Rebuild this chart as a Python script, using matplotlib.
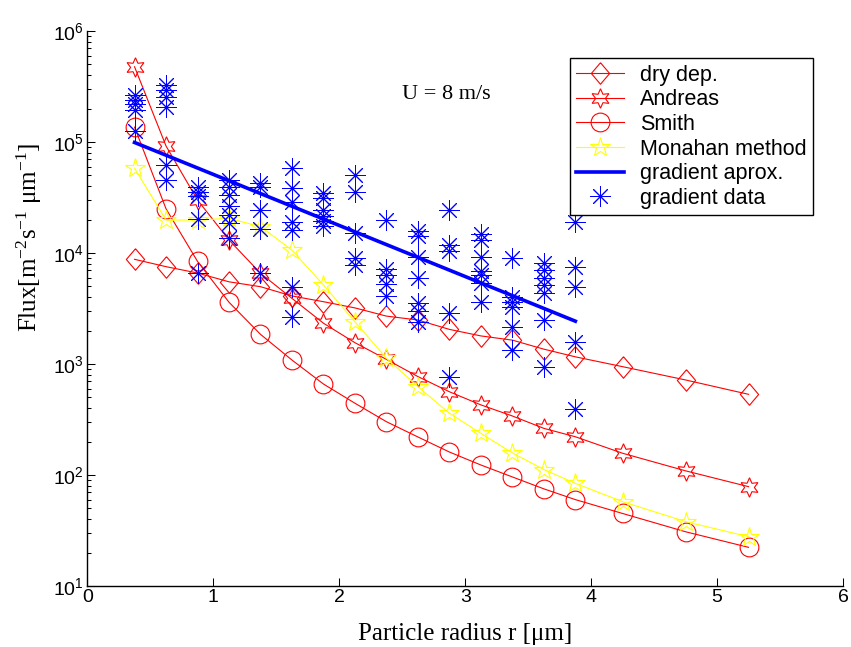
import matplotlib
matplotlib.use("Agg")
import matplotlib.pyplot as plt
from matplotlib.ticker import LogLocator, FuncFormatter, NullFormatter
import numpy as np

# === DATA ===
radius = [0.375, 0.625, 0.875, 1.125, 1.375, 1.625, 1.875, 2.125, 2.375,
          2.625, 2.875, 3.125, 3.375, 3.625, 3.875, 4.25, 4.75, 5.25]
dry_dep = [8770, 7530, 6600, 5500, 4970, 4100, 3640, 3200, 2700,
           2490, 2050, 1790, 1640, 1360, 1160, 946, 718, 533]
andreas = [4.76e5, 9.2e4, 3.0e4, 1.31e4, 6560, 3900, 2330, 1555, 1100,
           770, 562, 428, 340, 263, 221, 157, 109, 78.5]
smith = [1.36e5, 2.5e4, 8400, 3600, 1850, 1085, 660, 443, 302,
         220, 161, 123, 96, 75, 60, 45, 30.8, 22.3]
monahan = [5.8e4, 1.98e4, 1.98e4, 2.05e4, 1.73e4, 1.06e4, 5150, 2400, 1125,
           625, 360, 237, 158, 112, 84, 57.5, 38, 27.8]

# gradient approximation (straight line in semilog)
grad_fit_r = [0.375, 3.875]
grad_fit_flux = [9.9e4, 2.43e3]

# gradient data, one list per radius bin
grad_r = [0.375, 0.625, 0.875, 1.125, 1.375, 1.625, 1.875, 2.125,
          2.375, 2.625, 2.875, 3.125, 3.375, 3.625, 3.875]
grad_flux = [
    [2.65e5, 2.39e5, 2.2e5, 1.94e5, 1.26e5],
    [3.27e5, 2.94e5, 2.54e5, 2.06e5, 6.2e4, 4.55e4],
    [3.93e4, 3.55e4, 3.27e4, 2.02e4, 6600],
    [4.55e4, 3.93e4, 3.34e4, 2.65e4, 2.2e4, 1.86e4, 1.36e4],
    [4.27e4, 3.93e4, 2.44e4, 1.64e4, 6600],
    [5.83e4, 3.86e4, 2.88e4, 1.9e4, 1.61e4, 4940, 2650],
    [3.47e4, 3.13e4, 2.44e4, 2.15e4, 1.94e4, 1.75e4],
    [5.05e4, 3.55e4, 1.51e4, 9020, 7800],
    [1.98e4, 7170, 6340, 5260, 4100],
    [1.58e4, 1.42e4, 9200, 5960, 3550, 3000, 2390],
    [2.44e4, 1.18e4, 1.04e4, 2880, 764],
    [1.48e4, 1.31e4, 9200, 6880, 6340, 5370, 3620],
    [9020, 4020, 3620, 3270, 2150, 1340],
    [8130, 7030, 5960, 5150, 4370, 2490, 940],
    [1.9e4, 7480, 4940, 1580, 394],
]

OUTPUT_FILE = "out.png"

# === STYLE ===
plt.rcParams['font.family'] = ['Liberation Sans', 'DejaVu Sans']
plt.rcParams['mathtext.default'] = 'regular'
SERIF = ['Liberation Serif', 'DejaVu Serif']

RED = "#ff0000"
YELLOW = "#ffff00"
BLUE = "#0000ff"

diamond = [(0, 1), (0.85, 0), (0, -1), (-0.85, 0), (0, 1)]
hexagram = (6, 1, 0)
asterisk = (8, 2, 0)

fig = plt.figure(figsize=(8.51, 6.47), dpi=100)
ax = fig.add_axes([0.1026, 0.0943, 0.888, 0.8578])

lw = 0.8
ax.semilogy(radius, dry_dep, color=RED, lw=lw, marker=diamond, ms=15.5,
            mfc='none', mec=RED, mew=0.8, label='dry dep.')
ax.semilogy(radius, andreas, color=RED, lw=lw, marker=hexagram, ms=14,
            mfc='none', mec=RED, mew=0.8, label='Andreas')
ax.semilogy(radius, smith, color=RED, lw=lw, marker='o', ms=13.5,
            mfc='none', mec=RED, mew=0.8, label='Smith')
ax.semilogy(radius, monahan, color=YELLOW, lw=lw, marker='*', ms=15,
            mfc='none', mec=YELLOW, mew=0.8, label='Monahan method')
ax.semilogy(grad_fit_r, grad_fit_flux, color=BLUE, lw=2.6, label='gradient aprox.')

gx = [r for r, vals in zip(grad_r, grad_flux) for _ in vals]
gy = [v for vals in grad_flux for v in vals]
ax.semilogy(gx, gy, ls='none', marker=asterisk, ms=14.5, mec=BLUE, mew=0.7,
            label='gradient data')

ax.text(2.5, 2.7e5, 'U = 8 m/s', fontsize=16, family=SERIF, va='center', ha='left')

# === AXES ===
ax.set_xlim(0, 6)
ax.set_ylim(10, 1e6)
ax.set_xticks(range(0, 7))
ax.yaxis.set_major_locator(LogLocator(base=10, numticks=10))
ax.yaxis.set_minor_locator(LogLocator(base=10, subs=np.arange(2, 10), numticks=20))
ax.yaxis.set_minor_formatter(NullFormatter())
ax.yaxis.set_major_formatter(FuncFormatter(lambda v, p: r'$10^{%d}$' % round(np.log10(v))))
ax.tick_params(axis='both', which='major', direction='in', length=6, width=0.75,
               labelsize=14, pad=2.5)
ax.tick_params(axis='y', which='minor', direction='in', length=3, width=0.75)
ax.spines['top'].set_visible(False)
ax.spines['right'].set_visible(False)
for s in ('left', 'bottom'):
    ax.spines[s].set_linewidth(1.0)

ax.set_xlabel('Particle radius r [μm]', fontsize=18, family=SERIF)
ax.set_ylabel('Flux[m$^{-2}$s$^{-1}$ μm$^{-1}$]', fontsize=18, family=SERIF)
ax.xaxis.set_label_coords(0.5, -0.066)
ax.yaxis.set_label_coords(-0.057, 0.628)

leg = ax.legend(loc='upper right', bbox_to_anchor=(0.960, 0.951), borderaxespad=0,
                fontsize=15.5, numpoints=1, fancybox=False, framealpha=1,
                edgecolor='black', handlelength=2.2, handletextpad=0.75,
                labelspacing=0.17, borderpad=0.3)
leg.get_frame().set_linewidth(1.0)

plt.savefig(OUTPUT_FILE, dpi=100, facecolor='white')
